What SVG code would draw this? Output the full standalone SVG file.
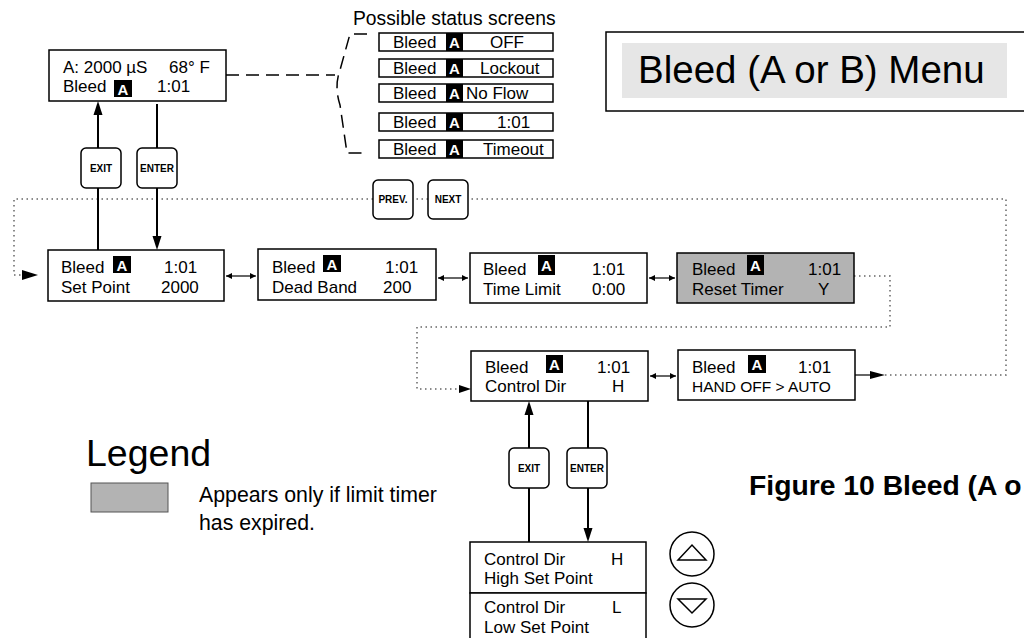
<svg xmlns="http://www.w3.org/2000/svg" width="1024" height="638" viewBox="0 0 1024 638">
<style>
text{font-family:"Liberation Sans",Arial,sans-serif;fill:#000}
.t{font-size:17px}
.s{font-size:15.5px}
.box{fill:#fff;stroke:#000;stroke-width:1.5}
.gray{fill:#b3b3b3;stroke:#000;stroke-width:1.5}
.ab{fill:#000}
.aw{font-size:15px;font-weight:bold;fill:#fff;text-anchor:middle}
.btn{fill:#fff;stroke:#000;stroke-width:1.5}
.bt{font-size:10px;font-weight:bold;text-anchor:middle}
.solid{fill:none;stroke:#000;stroke-width:2}
.thin{fill:none;stroke:#000;stroke-width:1.2}
.dot{fill:none;stroke:#666;stroke-width:1.5;stroke-dasharray:1.5 3.5}
.dash{fill:none;stroke:#000;stroke-width:1.5;stroke-dasharray:13 7}
</style>
<defs>
<marker id="ah" viewBox="0 0 10 10" refX="10" refY="5" markerWidth="8" markerHeight="6" markerUnits="userSpaceOnUse" orient="auto-start-reverse"><path d="M0,0 L10,5 L0,10 z" fill="#000"/></marker>
</defs>

<!-- title -->
<g id="title">
<rect x="606" y="32" width="430" height="79" fill="#fff" stroke="#000" stroke-width="1.5"/>
<rect x="622" y="43" width="385" height="55" fill="#e6e6e6"/>
<text x="638" y="83" font-size="38.5">Bleed (A or B) Menu</text>
</g>

<!-- connectors -->
<g id="connectors">
<path class="dash" d="M226,75 H335"/>
<path class="dash" d="M367,34 H350 L340,70 Q334,86 340,105 L347,153 H367"/>
<!-- main dotted loop -->
<path class="dot" d="M885,375 H1006 V199 H468"/>
<path class="dot" d="M428,199 H413"/>
<path class="dot" d="M373,199 H14 V275 H22"/>
<polygon points="38,275 22,270 22,280" fill="#000"/>
<path class="thin" d="M855,375 H875"/>
<polygon points="885,375 870,371 870,379" fill="#000"/>
<!-- reset loop -->
<path class="dot" d="M854,276 H890 V327 H417 V389 H460"/>
<polygon points="471,389 459,385 459,393" fill="#000"/>
<!-- double arrows -->
<path class="thin" d="M226,276 H256" marker-start="url(#ah)" marker-end="url(#ah)"/>
<path class="thin" d="M438,278 H468" marker-start="url(#ah)" marker-end="url(#ah)"/>
<path class="thin" d="M649,278 H675" marker-start="url(#ah)" marker-end="url(#ah)"/>
<path class="thin" d="M650,376 H676" marker-start="url(#ah)" marker-end="url(#ah)"/>
<!-- exit / enter top -->
<path class="solid" d="M98,250 V112"/>
<polygon points="98,101 93.5,115 102.5,115" fill="#000"/>
<path class="solid" d="M157,104 V238"/>
<polygon points="157,250 152.5,236 161.5,236" fill="#000"/>
<!-- exit / enter bottom -->
<path class="solid" d="M529,542 V412"/>
<polygon points="529,401 524.5,415 533.5,415" fill="#000"/>
<path class="solid" d="M588,401 V530"/>
<polygon points="588,542 583.5,528 592.5,528" fill="#000"/>
</g>

<!-- buttons -->
<g id="btn-exit-top"><rect class="btn" x="81" y="148" width="40" height="40" rx="5"/><text class="bt" x="101" y="172">EXIT</text></g>
<g id="btn-enter-top"><rect class="btn" x="137" y="148" width="40" height="40" rx="5"/><text class="bt" x="157" y="172">ENTER</text></g>
<g id="btn-prev"><rect class="btn" x="373" y="180" width="40" height="39" rx="5"/><text class="bt" x="393" y="203">PREV.</text></g>
<g id="btn-next"><rect class="btn" x="428" y="180" width="40" height="39" rx="5"/><text class="bt" x="448" y="203">NEXT</text></g>
<g id="btn-exit-bot"><rect class="btn" x="509" y="448" width="40" height="40" rx="5"/><text class="bt" x="529" y="472">EXIT</text></g>
<g id="btn-enter-bot"><rect class="btn" x="567" y="448" width="40" height="40" rx="5"/><text class="bt" x="587" y="472">ENTER</text></g>

<!-- home screen -->
<g id="home">
<rect class="box" x="49" y="50" width="177" height="51"/>
<text class="t" x="63" y="73">A: 2000 µS</text>
<text class="t" x="169" y="73">68° F</text>
<text class="t" x="63" y="92">Bleed</text>
<rect class="ab" x="114" y="80" width="18" height="17"/>
<text class="aw" x="123" y="95">A</text>
<text class="t" x="157" y="92">1:01</text>
</g>

<!-- status screens -->
<g id="status">
<text x="353" y="25" font-size="19.3px">Possible status screens</text>
<rect class="box" x="379" y="33" width="174" height="18"/><rect class="ab" x="446" y="33" width="17" height="18"/>
<text class="t" x="393" y="48">Bleed</text><text class="aw" x="454.5" y="48">A</text><text class="t" x="490" y="48">OFF</text>
<rect class="box" x="379" y="59" width="174" height="18"/><rect class="ab" x="446" y="59" width="17" height="18"/>
<text class="t" x="393" y="74">Bleed</text><text class="aw" x="454.5" y="74">A</text><text class="t" x="480" y="74">Lockout</text>
<rect class="box" x="379" y="84" width="174" height="18"/><rect class="ab" x="446" y="84" width="17" height="18"/>
<text class="t" x="393" y="99">Bleed</text><text class="aw" x="454.5" y="99">A</text><text class="t" x="466" y="99">No Flow</text>
<rect class="box" x="379" y="113" width="174" height="18"/><rect class="ab" x="446" y="113" width="17" height="18"/>
<text class="t" x="393" y="128">Bleed</text><text class="aw" x="454.5" y="128">A</text><text class="t" x="497" y="128">1:01</text>
<rect class="box" x="379" y="140" width="174" height="18"/><rect class="ab" x="446" y="140" width="17" height="18"/>
<text class="t" x="393" y="155">Bleed</text><text class="aw" x="454.5" y="155">A</text><text class="t" x="483" y="155">Timeout</text>
</g>

<!-- row screens -->
<g id="setpoint">
<rect class="box" x="48" y="250" width="176" height="51"/>
<text class="t" x="61" y="273">Bleed</text>
<rect class="ab" x="113" y="256" width="18" height="17"/><text class="aw" x="122" y="271">A</text>
<text class="t" x="164" y="273">1:01</text>
<text class="t" x="61" y="293">Set Point</text>
<text class="t" x="161" y="293">2000</text>
</g>
<g id="deadband">
<rect class="box" x="258" y="249" width="178" height="51"/>
<text class="t" x="272" y="273">Bleed</text>
<rect class="ab" x="323" y="255" width="18" height="17"/><text class="aw" x="332" y="270">A</text>
<text class="t" x="385" y="273">1:01</text>
<text class="t" x="272" y="293">Dead Band</text>
<text class="t" x="383" y="293">200</text>
</g>
<g id="timelimit">
<rect class="box" x="470" y="253" width="177" height="50"/>
<text class="t" x="483" y="275">Bleed</text>
<rect class="ab" x="538" y="255" width="17" height="20"/><text class="aw" x="546.5" y="271">A</text>
<text class="t" x="592" y="275">1:01</text>
<text class="t" x="483" y="295">Time Limit</text>
<text class="t" x="592" y="295">0:00</text>
</g>
<g id="resettimer">
<rect class="gray" x="677" y="253" width="177" height="50"/>
<text class="t" x="692" y="275">Bleed</text>
<rect class="ab" x="747" y="255" width="17" height="20"/><text class="aw" x="755.5" y="271">A</text>
<text class="t" x="808" y="275">1:01</text>
<text class="t" x="692" y="295">Reset Timer</text>
<text class="t" x="818" y="295">Y</text>
</g>
<g id="controldir">
<rect class="box" x="471" y="351" width="177" height="50"/>
<text class="t" x="485" y="373">Bleed</text>
<rect class="ab" x="546" y="355" width="17" height="18"/><text class="aw" x="554.5" y="370">A</text>
<text class="t" x="597" y="373">1:01</text>
<text class="t" x="485" y="392">Control Dir</text>
<text class="t" x="612" y="392">H</text>
</g>
<g id="handoffauto">
<rect class="box" x="678" y="350" width="177" height="50"/>
<text class="t" x="692" y="373">Bleed</text>
<rect class="ab" x="748" y="355" width="18" height="18"/><text class="aw" x="757" y="370">A</text>
<text class="t" x="798" y="373">1:01</text>
<text class="s" x="692" y="392">HAND  OFF &gt; AUTO</text>
</g>
<g id="highsp">
<rect class="box" x="470" y="542" width="176" height="51"/>
<text class="t" x="484" y="565">Control Dir</text>
<text class="t" x="611" y="565">H</text>
<text class="t" x="484" y="584">High Set Point</text>
</g>
<g id="lowsp">
<rect class="box" x="470" y="593" width="176" height="52"/>
<text class="t" x="484" y="613">Control Dir</text>
<text class="t" x="612" y="613">L</text>
<text class="t" x="484" y="633">Low Set Point</text>
</g>
<g id="updown">
<circle cx="692" cy="554" r="22" fill="#fff" stroke="#000" stroke-width="1.5"/>
<polygon points="678,560 706,560 692,545" fill="none" stroke="#000" stroke-width="1.5"/>
<circle cx="692" cy="605" r="22" fill="#fff" stroke="#000" stroke-width="1.5"/>
<polygon points="678,599 706,599 692,613" fill="none" stroke="#000" stroke-width="1.5"/>
</g>

<!-- legend -->
<g id="legend">
<text x="86" y="466" font-size="37.5">Legend</text>
<rect x="91" y="483" width="77" height="29" fill="#b3b3b3" stroke="#555" stroke-width="1"/>
<text x="199" y="502" font-size="21.3">Appears only if limit timer</text>
<text x="199" y="530" font-size="21.3">has expired.</text>
</g>

<g id="caption">
<text x="749" y="495" font-size="28.3" font-weight="bold">Figure 10 Bleed (A o</text>
</g>
</svg>
